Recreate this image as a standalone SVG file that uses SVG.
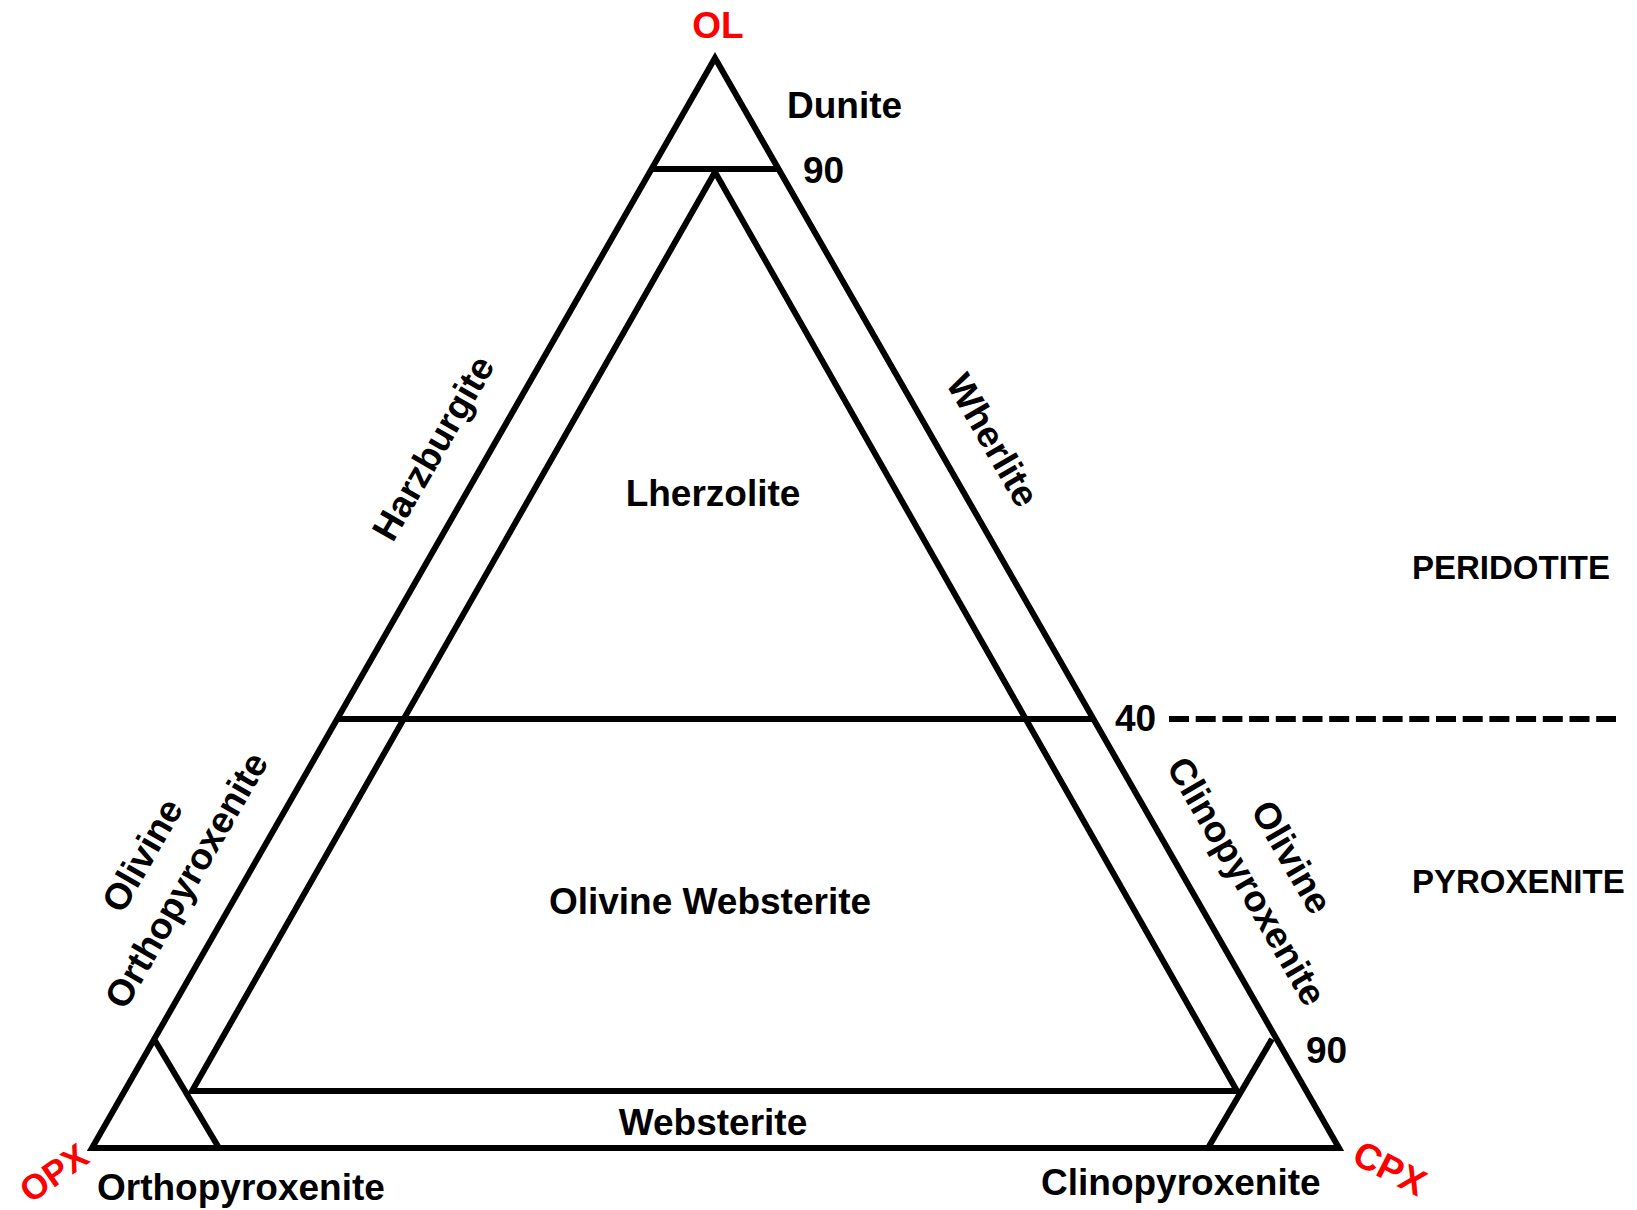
<svg xmlns="http://www.w3.org/2000/svg" width="1637" height="1210" viewBox="0 0 1637 1210">
<style>
.ln{fill:none;stroke:#000;stroke-width:6;stroke-linejoin:miter;stroke-linecap:butt}
.t{font-family:"Liberation Sans",Arial,sans-serif;font-weight:bold;font-size:37px;fill:#000}
.caps{font-size:33px}
.r{fill:#ff0000}
.m{text-anchor:middle}
</style>
<rect width="1637" height="1210" fill="#fff"/>
<g id="connectors">
<polygon class="ln" points="715,58 92,1148 1339,1148"/>
<line class="ln" x1="651" y1="169" x2="779" y2="169"/>
<polygon class="ln" points="715,172 192,1091 1237,1091"/>
<line class="ln" x1="337" y1="719" x2="1093" y2="719"/>
<polyline class="ln" points="154,1039 219,1148"/>
<polyline class="ln" points="1272,1039 1208,1148"/>
<line class="ln" x1="1169" y1="719" x2="1616" y2="719" stroke-dasharray="20 6.7" stroke-width="6.5"/>
</g>
<g id="vertex-OL"><text class="t r m" x="718" y="38">OL</text></g>
<g id="vertex-OPX"><text class="t r m" style="font-size:35px" transform="translate(54,1173) rotate(-35)" x="0" y="12">OPX</text></g>
<g id="vertex-CPX"><text class="t r m" transform="translate(1390,1168) rotate(27)" x="0" y="13">CPX</text></g>
<g id="dunite"><text class="t" x="787" y="118">Dunite</text></g>
<g id="tick-90-top"><text class="t" x="803" y="183">90</text></g>
<g id="harzburgite"><text class="t m" transform="translate(433,448) rotate(-60)" x="0" y="13">Harzburgite</text></g>
<g id="wherlite"><text class="t m" transform="translate(993,440) rotate(60)" x="0" y="13">Wherlite</text></g>
<g id="lherzolite"><text class="t m" x="713" y="506">Lherzolite</text></g>
<g id="peridotite"><text class="t caps" x="1412" y="579">PERIDOTITE</text></g>
<g id="tick-40"><text class="t" x="1115" y="731">40</text></g>
<g id="olivine-orthopyroxenite">
<text class="t m" transform="translate(142,855) rotate(-60)" x="0" y="13">Olivine</text>
<text class="t m" transform="translate(186,880) rotate(-60)" x="0" y="13">Orthopyroxenite</text>
</g>
<g id="olivine-clinopyroxenite">
<text class="t m" transform="translate(1247,881) rotate(60)" x="0" y="13">Clinopyroxenite</text>
<text class="t m" transform="translate(1292,857) rotate(60)" x="0" y="13">Olivine</text>
</g>
<g id="olivine-websterite"><text class="t m" x="710" y="914">Olivine Websterite</text></g>
<g id="pyroxenite"><text class="t caps" x="1412" y="893">PYROXENITE</text></g>
<g id="tick-90-bottom"><text class="t" x="1306" y="1063">90</text></g>
<g id="websterite"><text class="t m" x="713" y="1135">Websterite</text></g>
<g id="orthopyroxenite"><text class="t" x="97" y="1200">Orthopyroxenite</text></g>
<g id="clinopyroxenite"><text class="t" x="1041" y="1195">Clinopyroxenite</text></g>
</svg>
